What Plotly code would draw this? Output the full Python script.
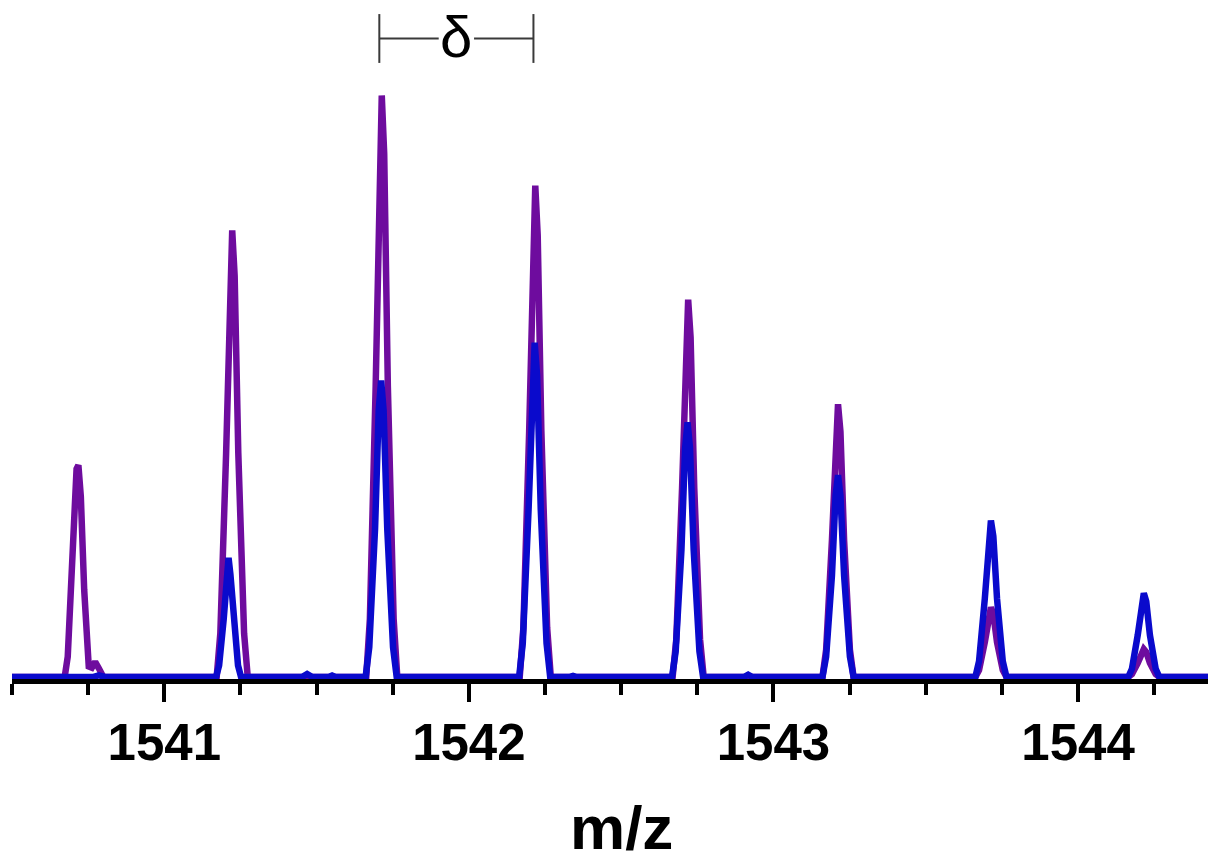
import plotly.graph_objects as go

# ---------------- data ----------------
# purple spectrum: m/z and relative intensity (tallest peak = 100)
purple_mz = [
    1540.500,
    1540.673, 1540.683, 1540.695, 1540.706, 1540.712, 1540.718, 1540.726, 1540.737, 1540.747,
    1540.752, 1540.762, 1540.773, 1540.785, 1540.800,
    1541.172, 1541.184, 1541.203, 1541.215, 1541.223, 1541.231, 1541.243, 1541.262, 1541.274,
    1541.663, 1541.675, 1541.694, 1541.706, 1541.714, 1541.722, 1541.734, 1541.753, 1541.765,
    1542.167, 1542.179, 1542.198, 1542.210, 1542.218, 1542.226, 1542.238, 1542.257, 1542.269,
    1542.669, 1542.681, 1542.700, 1542.712, 1542.720, 1542.728, 1542.740, 1542.759, 1542.771,
    1543.161, 1543.173, 1543.192, 1543.204, 1543.212, 1543.220, 1543.232, 1543.251, 1543.263,
    1543.663, 1543.675, 1543.694, 1543.706, 1543.714, 1543.722, 1543.734, 1543.753, 1543.765,
    1544.165, 1544.177, 1544.196, 1544.208, 1544.216, 1544.224, 1544.236, 1544.255, 1544.267,
    1544.450,
]
purple_int = [
    0,
    0, 3.5, 18.0, 33.0, 35.8, 36.4, 31.0, 15.0, 4.0,
    1.8, 1.6, 2.6, 1.5, 0,
    0, 7.5, 38.5, 69.0, 76.8, 69.0, 38.5, 7.5, 0,
    0, 10.0, 50.0, 90.0, 100.0, 90.0, 50.0, 10.0, 0,
    0, 8.5, 42.3, 76.0, 84.5, 76.0, 42.3, 8.5, 0,
    0, 6.5, 32.5, 58.4, 64.9, 58.4, 32.5, 6.5, 0,
    0, 4.7, 23.5, 42.2, 46.9, 42.2, 23.5, 4.7, 0,
    0, 1.2, 6.0, 10.8, 12.0, 10.8, 6.0, 1.2, 0,
    0, 0.5, 2.4, 4.3, 4.8, 4.3, 2.4, 0.5, 0,
    0,
]

# blue spectrum
blue_mz = [
    1540.500,
    1540.765, 1540.785, 1540.805,
    1541.170, 1541.180, 1541.195, 1541.205, 1541.211, 1541.217, 1541.227, 1541.242, 1541.252,
    1541.452, 1541.469, 1541.486, 1541.540, 1541.551, 1541.562,
    1541.661, 1541.673, 1541.692, 1541.704, 1541.712, 1541.720, 1541.732, 1541.751, 1541.763,
    1542.165, 1542.177, 1542.196, 1542.208, 1542.216, 1542.224, 1542.236, 1542.255, 1542.267,
    1542.330, 1542.342, 1542.354,
    1542.667, 1542.679, 1542.698, 1542.710, 1542.718, 1542.726, 1542.738, 1542.757, 1542.769,
    1542.903, 1542.917, 1542.931,
    1543.161, 1543.173, 1543.192, 1543.204, 1543.212, 1543.220, 1543.232, 1543.251, 1543.263,
    1543.663, 1543.675, 1543.694, 1543.706, 1543.714, 1543.722, 1543.734, 1543.753, 1543.765,
    1544.165, 1544.177, 1544.196, 1544.208, 1544.216, 1544.224, 1544.236, 1544.255, 1544.267,
    1544.450,
]
blue_int = [
    0,
    0, 0.3, 0,
    0, 2.0, 9.9, 17.7, 20.5, 17.7, 9.9, 2.0, 0,
    0, 0.5, 0, 0, 0.25, 0,
    0, 5.1, 25.5, 45.9, 51.0, 45.9, 25.5, 5.1, 0,
    0, 5.8, 28.8, 51.8, 57.5, 51.8, 28.8, 5.8, 0,
    0, 0.2, 0,
    0, 4.4, 21.9, 39.4, 43.8, 39.4, 21.9, 4.4, 0,
    0, 0.4, 0,
    0, 3.5, 17.4, 31.2, 34.7, 31.2, 17.4, 3.5, 0,
    0, 2.7, 13.5, 24.2, 26.9, 24.2, 13.5, 2.7, 0,
    0, 1.4, 7.2, 13.0, 14.4, 13.0, 7.2, 1.4, 0,
    0,
]

tick_vals = [1541, 1542, 1543, 1544]
tick_text = ["1541", "1542", "1543", "1544"]
x_title = "m/z"

# spacing bracket (delta) between the two tallest isotope peaks
delta_label = "δ"
delta_start = 1541.706
delta_end = 1542.212
delta_level = 109.8
delta_cap = 4.2
delta_gap = 0.058   # half-width of the gap in the bracket line around the label

PURPLE = "#6E0C9E"
BLUE = "#0A0ACC"
FONT = "Liberation Sans, Arial, sans-serif"

fig = go.Figure()
fig.add_trace(go.Scatter(x=purple_mz, y=purple_int, mode="lines",
                         line=dict(color=PURPLE, width=6.5), hoverinfo="skip"))
fig.add_trace(go.Scatter(x=blue_mz, y=blue_int, mode="lines",
                         line=dict(color=BLUE, width=6.5), hoverinfo="skip"))

# delta bracket
bracket_col = "#3a3a3a"
delta_mid = (delta_start + delta_end) / 2
for xa, xb in ((delta_start, delta_mid - delta_gap), (delta_mid + delta_gap, delta_end)):
    fig.add_shape(type="line", xref="x", yref="y", x0=xa, x1=xb,
                  y0=delta_level, y1=delta_level, line=dict(color=bracket_col, width=2))
for xv in (delta_start, delta_end):
    fig.add_shape(type="line", xref="x", yref="y", x0=xv, x1=xv,
                  y0=delta_level - delta_cap, y1=delta_level + delta_cap,
                  line=dict(color=bracket_col, width=2))
fig.add_annotation(x=delta_mid, y=delta_level, xref="x", yref="y",
                   text=delta_label, showarrow=False,
                   font=dict(family=FONT, size=58, color="black"),
                   xanchor="center", yanchor="middle", borderpad=0, yshift=2)

# axis title as annotation
fig.add_annotation(x=0.5066, y=-0.2227, xref="paper", yref="paper", text="<b>" + x_title + "</b>",
                   showarrow=False, xanchor="center", yanchor="middle",
                   font=dict(family=FONT, size=62, color="black"))

# the page body has an 8px margin, so the figure is sized to fit the 1216x856 window
fig.update_layout(
    width=1208, height=848,
    margin=dict(l=4, r=0, t=2, b=177),
    paper_bgcolor="white", plot_bgcolor="white",
    showlegend=False,
    xaxis=dict(
        range=[1540.5, 1544.453],
        showgrid=False, zeroline=False,
        showline=True, linecolor="black", linewidth=5,
        ticks="outside", tickcolor="black", ticklen=18, tickwidth=4,
        tickvals=tick_vals, ticktext=tick_text,
        tickfont=dict(family=FONT, size=51, color="black", weight="bold"),
        ticklabelstandoff=-3,
        minor=dict(dtick=0.25, tick0=1541, ticks="outside", ticklen=11, tickwidth=4,
                   tickcolor="black", showgrid=False),
    ),
    yaxis=dict(range=[-0.344, 114.7], visible=False, showgrid=False, zeroline=False),
)

fig.write_html("out.html")
